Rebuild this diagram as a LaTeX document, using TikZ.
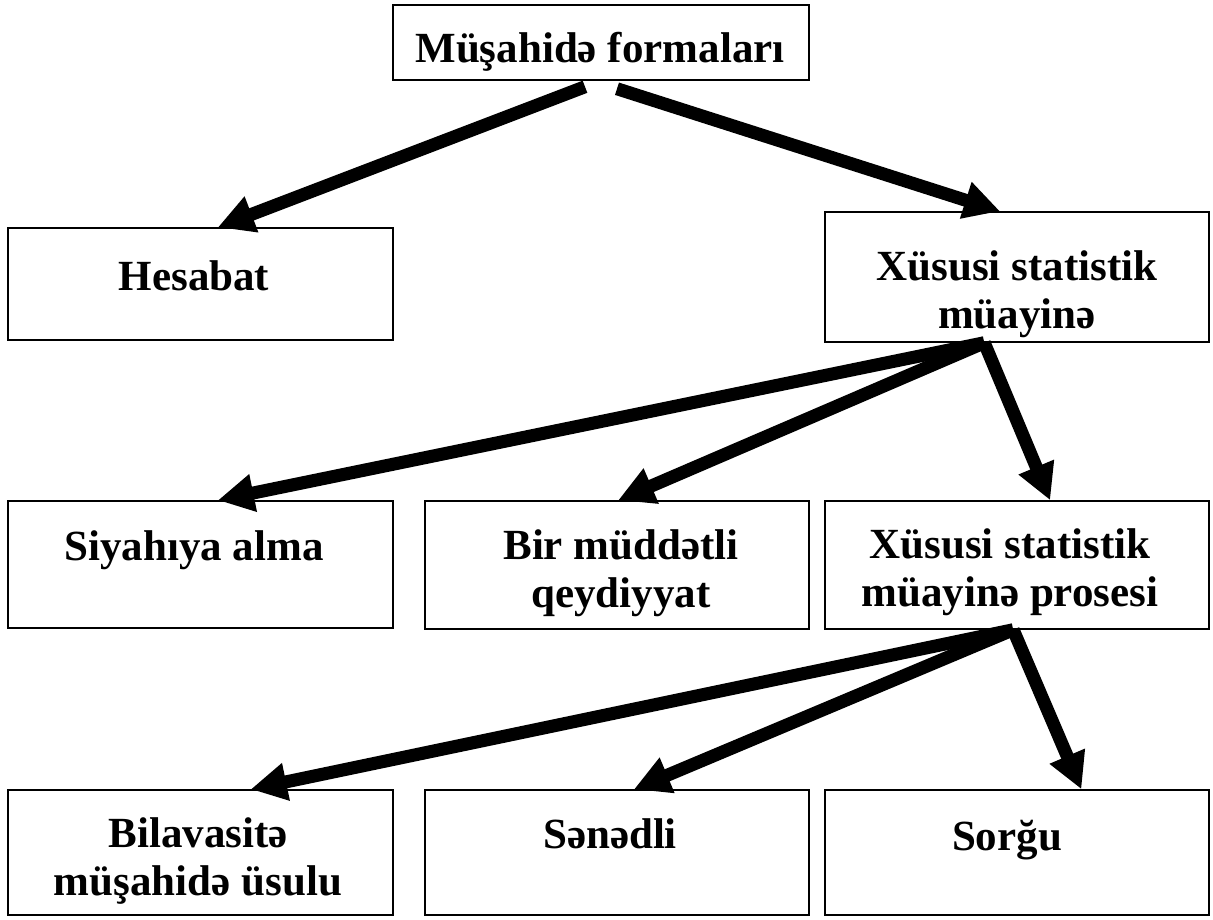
\documentclass[tikz,border=0pt]{standalone}
\usepackage{fontspec}
\setmainfont{Liberation Serif}
\usetikzlibrary{arrows.meta,calc,fit}
\begin{document}
\begin{tikzpicture}[x=1pt,y=-1pt,
  box/.style={draw, line width=1.5pt, inner sep=0pt},
  lbl/.style={font=\fontsize{43}{48}\selectfont\bfseries, align=center, anchor=base, inner sep=0pt},
  arr/.style={line width=13pt, -{Triangle[length=36pt,width=36pt]}}]
\useasboundingbox (0,0) rectangle (1213,919);
% boxes
\node[box, fit={(393,5) (809,80)}] (top) {};
\node[box, fit={(8,228) (393,340)}] (hes) {};
\node[box, fit={(825,212) (1209,342)}] (xsm) {};
\node[box, fit={(8,501) (393,628)}] (siy) {};
\node[box, fit={(425,501) (809,629)}] (bir) {};
\node[box, fit={(825,501) (1209,629)}] (pro) {};
\node[box, fit={(8,790) (393,915)}] (bil) {};
\node[box, fit={(425,790) (809,915)}] (sen) {};
\node[box, fit={(825,790) (1209,915)}] (sor) {};
% labels (anchor base = baseline of the last line)
\node[lbl] (topt) at (600,62) {Müşahidə formaları};
\node[lbl] (hest) at (194,290) {Hesabat};
\node[lbl] (xsmt) at (1017,328) {Xüsusi statistik\\müayinə};
\node[lbl] (siyt) at (194,560) {Siyahıya alma};
\node[lbl] (birt) at (621,607) {Bir müddətli\\qeydiyyat};
\node[lbl] (prot) at (1010,606) {Xüsusi statistik\\müayinə prosesi};
\node[lbl] (bilt) at (198,895) {Bilavasitə\\müşahidə üsulu};
\node[lbl] (sent) at (610,848) {Sənədli};
\node[lbl] (sort) at (1007,850) {Sorğu};
% arrows
\draw[arr] ($(top.south)+(-16,6)$) -- ($(hes.north west)!0.545!(hes.north east)$);
\draw[arr] ($(top.south)+(16,8)$) -- ($(xsm.north west)!0.456!(xsm.north east)$);
\draw[arr] ($(xsm.south west)!0.415!(xsm.south east)$) -- ($(siy.north west)!0.545!(siy.north east)$);
\draw[arr] ($(xsm.south west)!0.415!(xsm.south east)$) -- ($(bir.north west)!0.503!(bir.north east)$);
\draw[arr] ($(xsm.south west)!0.415!(xsm.south east)$) -- ($(pro.north west)!0.586!(pro.north east)$);
\draw[arr] ($(pro.south west)!0.49!(pro.south east)$) -- ($(bil.north west)!0.63!(bil.north east)$);
\draw[arr] ($(pro.south west)!0.49!(pro.south east)$) -- ($(sen.north west)!0.544!(sen.north east)$);
\draw[arr] ($(pro.south west)!0.49!(pro.south east)$) -- ($(sor.north west)!0.667!(sor.north east)$);
\end{tikzpicture}
\end{document}
